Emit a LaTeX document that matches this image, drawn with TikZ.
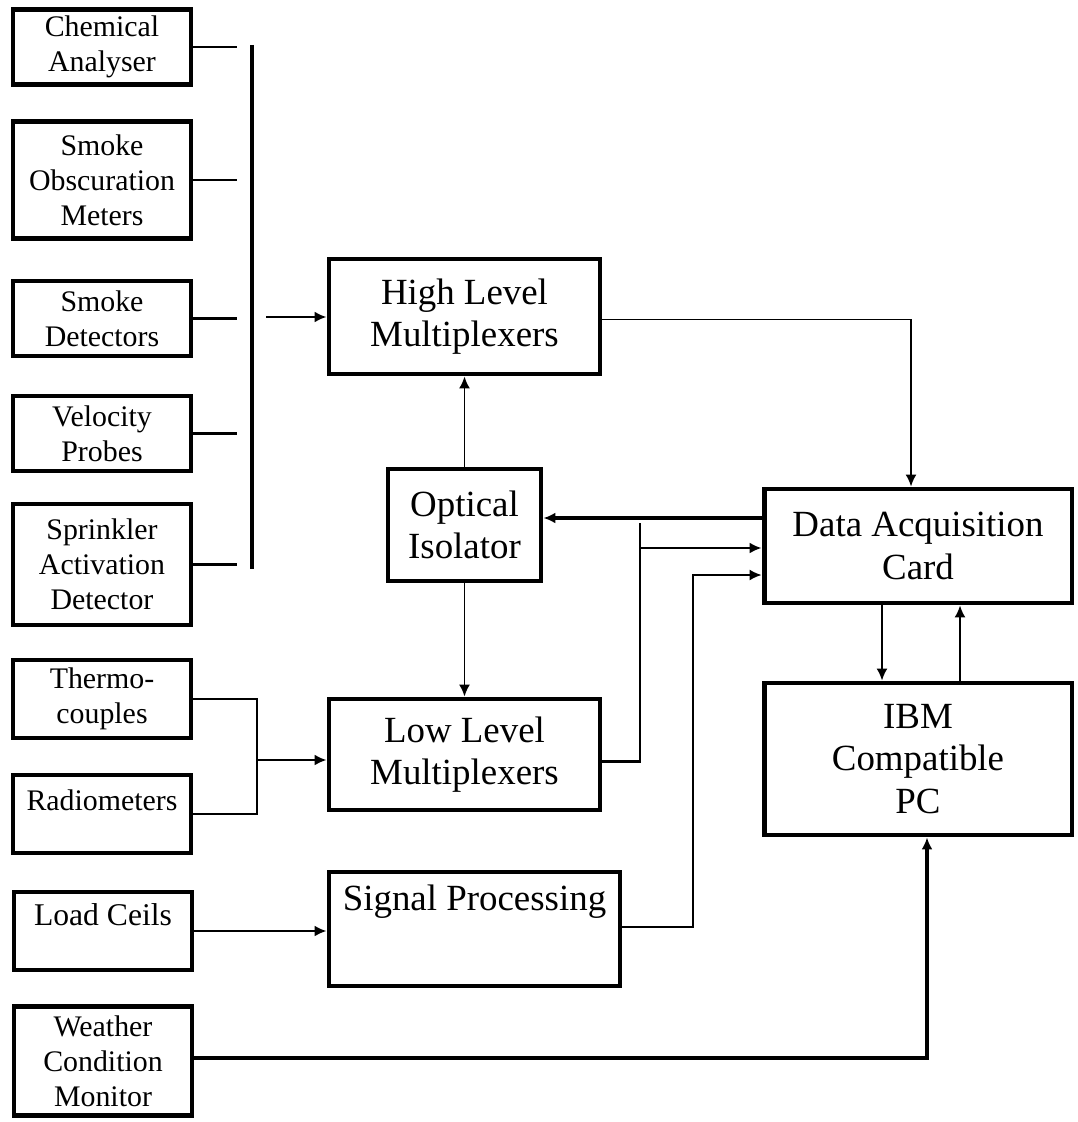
\documentclass[tikz,border=0pt]{standalone}
\usepackage{fontspec}
\setmainfont{Liberation Serif}
\usepackage{tikz}
\usetikzlibrary{arrows.meta,calc}
\tikzstyle{src}=[rectangle,line width=2.8pt,draw=black,inner sep=0pt,minimum width=3.56cm,align=center,font=\fontsize{17}{20}\selectfont]
\tikzstyle{unit}=[rectangle,line width=2.8pt,draw=black,inner sep=0pt,align=center,font=\fontsize{21}{24}\selectfont]
\tikzset{
	wire/.style={line width=1.5pt},
	thinwire/.style={line width=1pt},
	heavywire/.style={line width=2.1pt},
	tip/.style={-{Latex[length=2.4mm,width=2.2mm]}}
}

\begin{document}
\begin{tikzpicture}[x=0.02cm,y=-0.02cm]
    \useasboundingbox (0,0) rectangle (1078,1122);
    % sensors
    \node (chem) [src,minimum height=1.5cm] at (102,47) {Chemical\\Analyser};
    \node (smokeobs) [src,minimum height=2.34cm] at (102,180) {Smoke\\Obscuration\\Meters};
    \node (smokedet) [src,minimum height=1.5cm] at (102,318.5) {Smoke\\Detectors};
    \node (velocity) [src,minimum height=1.5cm] at (102,433.5) {Velocity\\Probes};
    \node (sprinkler) [src,minimum height=2.42cm] at (102,564.5) {Sprinkler\\Activation\\Detector};
    \node (thermo) [src,minimum height=1.56cm] at (102,699) {Thermo-\\couples};
    \node (radio) [src,minimum height=1.56cm,text depth=0.56cm] at (102,814) {Radiometers};
    \node (load) [src,minimum height=1.56cm,text depth=0.64cm,font=\fontsize{18}{20}\selectfont] at (103,931) {Load Ceils};
    \node (weather) [src,minimum height=2.18cm] at (103,1061) {Weather\\Condition\\Monitor};
    % processing units
    \node (hlm) [unit,minimum width=5.42cm,minimum height=2.3cm] at (464.5,316.5) {High Level\\Multiplexers};
    \node (oi) [unit,minimum width=3.06cm,minimum height=2.24cm] at (464.5,525) {Optical\\Isolator};
    \node (llm) [unit,minimum width=5.42cm,minimum height=2.22cm] at (464.5,754.5) {Low Level\\Multiplexers};
    \node (sp) [unit,minimum width=5.82cm,minimum height=2.28cm,text depth=1.24cm] at (474.5,929) {Signal Processing};
    \node (dac) [unit,minimum width=6.16cm,minimum height=2.28cm] at (918,546) {Data Acquisition\\Card};
    \node (pc) [unit,minimum width=6.16cm,minimum height=3.04cm] at (918,759) {IBM\\Compatible\\PC};

    % bus to high level multiplexers
    \coordinate (stubend) at (237,0);
    \foreach \s in {chem,smokeobs,smokedet,velocity,sprinkler}
        \draw[wire] (\s.east) -- (\s.east -| stubend);
    \coordinate (bustop) at (252,45);
    \coordinate (busbot) at (252,569);
    \draw[heavywire] (bustop) -- (busbot);
    \coordinate (busout) at (266,317);
    \draw[wire,tip] (busout) -- (hlm.west |- busout);

    % thermocouples and radiometers
    \coordinate (jc) at (257,760);
    \draw[wire] (thermo.east) -| (jc) |- (radio.east);
    \draw[wire,tip] (jc) -- (llm.west |- jc);
    \draw[wire,tip] (load.east) -- (sp.west |- load.east);

    \draw[thinwire,tip] (oi.north) -- (hlm.south);
    \draw[thinwire,tip] (oi.south) -- (llm.north);

    % into the acquisition card
    \coordinate (hx) at (911,0);
    \draw[thinwire,tip] ($(hlm.east)+(0,3)$) -| (hx |- dac.north);
    \coordinate (ya) at (0,518);
    \draw[heavywire,tip] (dac.west |- ya) -- (oi.east |- ya);
    \coordinate (ja) at (640,523);
    \coordinate (yb) at (0,548);
    \draw[wire] ($(llm.east)+(0,7)$) -| (ja);
    \draw[wire,tip] (ja |- yb) -- (dac.west |- yb);
    \coordinate (jb) at (693,575);
    \draw[thinwire,tip] ($(sp.east)+(0,-2)$) -| (jb) -- (dac.west |- jb);

    % card and pc
    \coordinate (dn) at (882,0);
    \coordinate (up) at (960,0);
    \draw[thinwire,tip] (dac.south -| dn) -- (pc.north -| dn);
    \draw[thinwire,tip] (pc.north -| up) -- (dac.south -| up);
    \coordinate (wx) at (927,0);
    \draw[heavywire,tip] ($(weather.east)+(0,-3)$) -| (wx |- pc.south);
\end{tikzpicture}
\end{document}
